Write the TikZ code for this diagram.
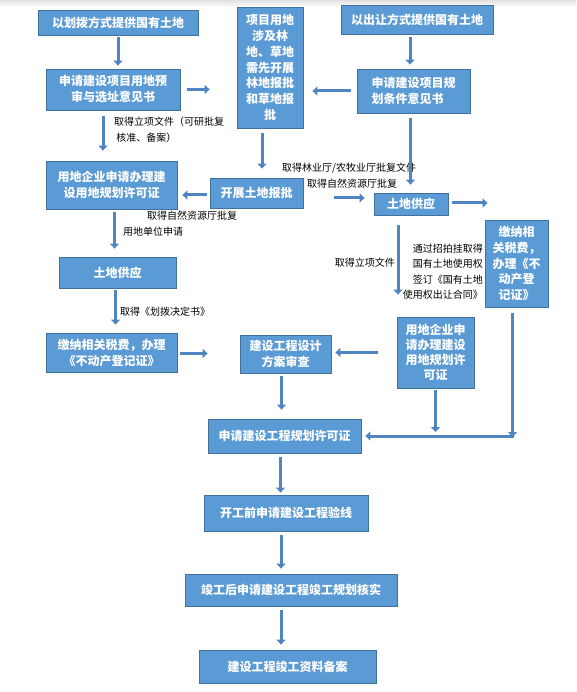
\documentclass[tikz,border=0pt]{standalone}
\usepackage{fontspec}
\setmainfont{Noto Sans CJK SC}
\usetikzlibrary{arrows.meta}
\definecolor{boxblue}{HTML}{5B9BD5}
\definecolor{boxline}{HTML}{41719C}
\definecolor{arrowblue}{HTML}{4F86C2}
\tikzset{
  box/.style={draw=boxline,line width=0.8pt,fill=boxblue,text=white,inner sep=0pt,
    align=center,font=\bfseries\fontsize{12}{16}\selectfont},
  flow/.style={draw=arrowblue,line width=3pt,-{Triangle[length=5pt,width=9pt]}},
  note/.style={inner sep=0pt,font=\fontsize{10}{15.5}\selectfont},
  line cap=butt,line join=miter}

\begin{document}
\begin{tikzpicture}[x=1pt,y=-1pt]
  \path[use as bounding box] (0,0) rectangle (576,692);
  \shade[top color=black!12,bottom color=white,draw=none] (0,0) rectangle (576,7);
  % left column
  \node[box,minimum width=160pt,minimum height=25pt] (allot) at (118,22.5) {以划拨方式提供国有土地};
  \node[box,minimum width=134pt,minimum height=41pt] (preapp) at (113,89.5) {申请建设项目用地预\\审与选址意见书};
  \node[box,minimum width=131pt,minimum height=48pt] (landpermit) at (111.5,185) {用地企业申请办理建\\设用地规划许可证};
  \node[box,minimum width=117pt,minimum height=31pt] (supply) at (117.5,272.5) {土地供应};
  \node[box,minimum width=131pt,minimum height=39pt] (taxL) at (111.5,352.5) {缴纳相关税费，办理\\《不动产登记证》};
  % middle
  \node[box,minimum width=66pt,minimum height=121pt,font=\bfseries\fontsize{12}{15.8}\selectfont] (forest) at (270,67.5)
    {项目用地\\涉及林\\地、草地\\需先开展\\林地报批\\和草地报\\批};
  \node[box,minimum width=93pt,minimum height=30pt] (landapprove) at (256.5,193) {开展土地报批};
  \node[box,minimum width=91pt,minimum height=38pt] (design) at (285.5,354) {建设工程设计\\方案审查};
  % right column
  \node[box,minimum width=152pt,minimum height=29pt] (transfer) at (417,19.5) {以出让方式提供国有土地};
  \node[box,minimum width=113pt,minimum height=44pt,align=left] (plancond) at (413.5,91) {申请建设项目规\\划条件意见书};
  \node[box,minimum width=74pt,minimum height=22pt] (supplyR) at (411,204) {土地供应};
  \node[box,minimum width=63pt,minimum height=87pt,font=\bfseries\fontsize{12}{15.8}\selectfont] (taxR) at (516.5,263.5)
    {缴纳相\\关税费，\\办理《不\\动产登\\记证》};
  \node[box,minimum width=77pt,minimum height=71pt,font=\bfseries\fontsize{12}{15}\selectfont] (permitR) at (435.5,352.5)
    {用地企业申\\请办理建设\\用地规划许\\可证};
  % bottom chain
  \node[box,minimum width=153pt,minimum height=34pt] (workpermit) at (284.5,436) {申请建设工程规划许可证};
  \node[box,minimum width=164pt,minimum height=36pt] (layout) at (286,513) {开工前申请建设工程验线};
  \node[box,minimum width=212pt,minimum height=32pt] (verify) at (291,590) {竣工后申请建设工程竣工规划核实};
  \node[box,minimum width=177pt,minimum height=33pt] (archive) at (287.5,666.5) {建设工程竣工资料备案};
  % labels
  \node[note,anchor=west,align=left] (n1) at (114,129.5) {取得立项文件（可研批复\\\ 核准、备案）};
  \node[note,anchor=west] (n2) at (282,168) {取得林业厅/农牧业厅批复文件};
  \node[note,anchor=west] (n3) at (307,184) {取得自然资源厅批复};
  \node[note,anchor=west] (n4) at (147,216) {取得自然资源厅批复};
  \node[note,anchor=west] (n5) at (123,232) {用地单位申请};
  \node[note,anchor=west] (n6) at (120,312) {取得《划拨决定书》};
  \node[note,anchor=east] (n7) at (395,263) {取得立项文件};
  \node[note,anchor=east,align=right] (n8) at (483,271.5) {通过招拍挂取得\\国有土地使用权\\签订《国有土地\\使用权出让合同》};
  % connectors
  \draw[flow,shorten <=2pt,shorten >=3pt] (allot.south) -- (allot.south |- preapp.north);
  \draw[flow,shorten <=7pt,shorten >=27pt] (preapp.east) -- (preapp.east -| forest.west);
  \draw[flow,shorten <=6pt,shorten >=9pt] (plancond.west) -- (plancond.west -| forest.east);
  \draw[flow,shorten <=3pt,shorten >=4pt] ([xshift=-7pt]transfer.south) -- ([xshift=-7pt]transfer.south |- plancond.north);
  \draw[flow,shorten <=6pt,shorten >=10pt] ([xshift=-10pt]preapp.south) -- ([xshift=-10pt]preapp.south |- landpermit.north);
  \draw[flow,shorten <=5pt,shorten >=9pt] ([xshift=-8pt]forest.south) -- ([xshift=-8pt]forest.south |- landapprove.north);
  \draw[flow,shorten <=3pt,shorten >=5pt] ([yshift=-2pt]landapprove.west) -- ([yshift=-2pt]landapprove.west -| landpermit.east);
  \draw[flow,shorten <=5pt,shorten >=8pt] ([xshift=-3pt]plancond.south) -- ([xshift=-3pt]plancond.south |- supplyR.north);
  \draw[flow,shorten <=31pt,shorten >=9pt] ([yshift=-5pt]landapprove.east) -- ([yshift=-5pt]landapprove.east -| supplyR.west);
  \draw[flow,shorten <=4pt,shorten >=-3pt] ([yshift=1pt]supplyR.east) -- ([yshift=1pt]supplyR.east -| taxR.west);
  \draw[flow,shorten <=10pt,shorten >=22pt] ([xshift=-13pt]supplyR.south) -- ([xshift=-13pt]supplyR.south |- permitR.north);
  \draw[flow,shorten <=3pt,shorten >=8pt] ([xshift=3pt]landpermit.south) -- ([xshift=3pt]landpermit.south |- supply.north);
  \draw[flow,shorten <=2pt,shorten >=8pt] ([xshift=-2pt]supply.south) -- ([xshift=-2pt]supply.south |- taxL.north);
  \draw[flow,shorten <=3pt,shorten >=32pt] ([yshift=-1pt]taxL.east) -- ([yshift=-1pt]taxL.east -| design.west);
  \draw[flow,shorten <=19pt,shorten >=4pt] (permitR.west) -- (permitR.west -| design.east);
  \draw[flow,shorten <=3pt,shorten >=9pt] ([xshift=-4pt]design.south) -- ([xshift=-4pt]design.south |- workpermit.north);
  \coordinate (joint) at ([xshift=-4pt]taxR.south |- workpermit.east);
  \draw[flow,shorten <=2pt,shorten >=4pt] (permitR.south) -- (permitR.south |- joint);
  \draw[flow,shorten <=6pt,shorten >=-1pt] ([xshift=-4pt]taxR.south) -- (joint);
  \draw[flow,shorten >=4pt] ([xshift=1.5pt]joint) -- (workpermit.east);
  \draw[flow,shorten <=4pt,shorten >=2pt] ([xshift=-4pt]workpermit.south) -- ([xshift=-4pt]workpermit.south |- layout.north);
  \draw[flow,shorten <=4pt,shorten >=5pt] ([xshift=-5pt]layout.south) -- ([xshift=-5pt]layout.south |- verify.north);
  \draw[flow,shorten <=4pt,shorten >=5pt] ([xshift=-10pt]verify.south) -- ([xshift=-10pt]verify.south |- archive.north);
\end{tikzpicture}
\end{document}
